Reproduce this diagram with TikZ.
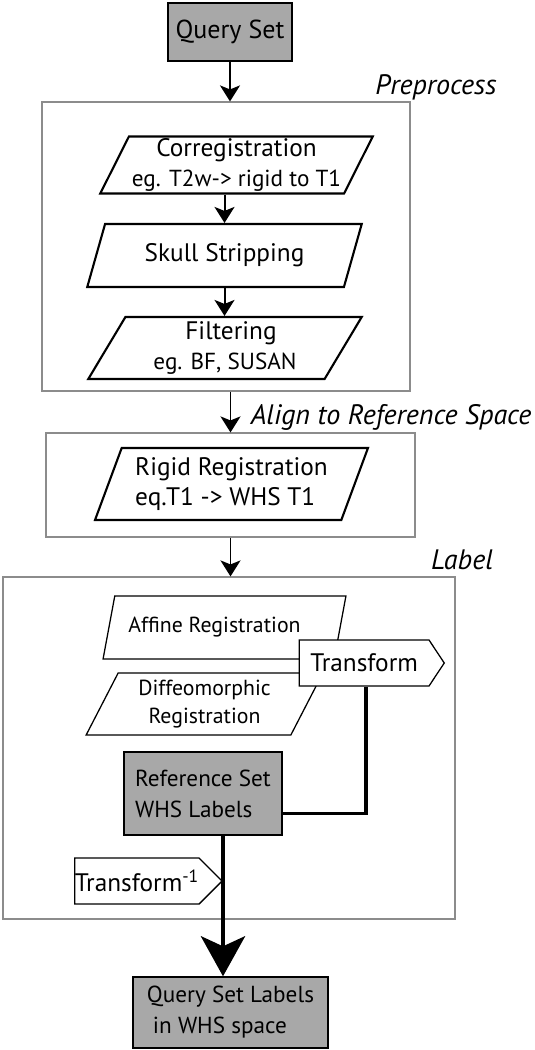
\documentclass[tikz,border=0pt]{standalone}
\usepackage{fontspec}
\setmainfont{PT Sans}
\usepackage{tikz}
\usetikzlibrary{shapes.geometric, shapes.symbols, arrows.meta, positioning, calc}
\definecolor{boxgray}{HTML}{A8A8A8}
\definecolor{framegray}{HTML}{8C8C8C}
\newcommand{\subline}[1]{{\fontsize{16.5}{21}\selectfont #1}}

\tikzset{
  procbox/.style={trapezium, trapezium left angle=63, trapezium right angle=117,
    trapezium stretches=true, draw, line width=1.5pt, fill=white, inner sep=0pt,
    align=center, font=\fontsize{18}{21}\selectfont},
  regbox/.style={procbox, line width=0.9pt, font=\fontsize{15.5}{20}\selectfont},
  databox/.style={draw, line width=1pt, fill=boxgray, inner sep=0pt, align=left,
    font=\fontsize{16.5}{22}\selectfont},
  groupbox/.style={draw=framegray, line width=0.8pt, inner sep=0pt},
  xformtag/.style={signal, signal to=east, draw, line width=0.9pt, fill=white,
    inner sep=0pt, font=\fontsize{18}{20}\selectfont},
  steplabel/.style={font=\fontsize{20}{22}\selectfont\itshape},
  flowarrow/.style={line width=1.4pt, -{Stealth[length=4mm, width=5mm, inset=1mm]}},
  linkline/.style={line width=2.2pt},
  bigarrow/.style={line width=3.5pt, -{Stealth[length=10mm, width=11mm, inset=2.5mm]}}
}

\begin{document}
\begin{tikzpicture}
  \useasboundingbox (0,0) rectangle (13.35,-26.25);

  % Input
  \node[databox, align=center, font=\fontsize{18.5}{22}\selectfont, minimum width=3.1cm, minimum height=1.45cm] (queryset) at (5.75,-0.8) {Query Set};

  % Preprocess stage
  \node[groupbox, minimum width=9.2cm, minimum height=7.225cm] (preproc) at (5.65,-6.1625) {};
  \node[steplabel] (preproclabel) at (10.9,-2.175) {Preprocess};
  \node[procbox, trapezium left angle=62, trapezium right angle=118, minimum width=6.825cm, minimum height=1.425cm] (coreg) at (5.9125,-4.125) {Corregistration\\\subline{eg. T2w-> rigid to T1}};
  \node[procbox, minimum width=6.875cm, minimum height=1.575cm] (skull) at (5.6125,-6.3875) {Skull Stripping};
  \node[procbox, minimum width=6.85cm, minimum height=1.55cm] (filtering) at (5.625,-8.7) {\hspace{0.3cm}Filtering\\\subline{eg. BF, SUSAN}};

  % Align stage
  \node[groupbox, minimum width=9.225cm, minimum height=2.6cm] (alignbox) at (5.7625,-12.125) {};
  \node[steplabel] (alignlabel) at (9.775,-10.425) {Align to Reference Space};
  \node[procbox, align=left, trapezium left angle=66, trapezium right angle=114, minimum width=6.825cm, minimum height=1.8cm] (rigid) at (5.7875,-12.1) {Rigid Registration\\eq.T1 -> WHS T1};

  % Label stage
  \node[groupbox, minimum width=11.3cm, minimum height=8.55cm] (labelbox) at (5.725,-18.7) {};
  \node[steplabel] (labellabel) at (11.55,-14.0) {Label};
  \node[regbox, minimum width=6.075cm, minimum height=1.575cm] (affine) at (5.6125,-15.6875) {Affine Registration\hspace{0.5cm}};
  \node[regbox, minimum width=5.925cm, minimum height=1.55cm] (diffeo) at (5.1125,-17.6) {Diffeomorphic\\Registration};
  \node[xformtag, anchor=east, signal pointer angle=113, minimum width=3.625cm, minimum height=1.15cm] (xform) at (11.125,-16.575) {Transform};
  \coordinate (xformdrop) at (9.15,-16.575);
  \node[databox, minimum width=3.95cm, minimum height=2.075cm] (refset) at (5.075,-19.8375) {Reference Set\\WHS Labels};
  \node[xformtag, anchor=east, signal pointer angle=90, minimum width=3.65cm, minimum height=1.15cm] (invxform) at (5.575,-22.025) {Transform\textsuperscript{-1}};

  % Output
  \node[databox, minimum width=4.875cm, minimum height=1.775cm] (querylabels) at (5.7625,-25.3125) {Query Set Labels\\\hspace{0.15cm}in WHS space};

  % Connectors
  \draw[flowarrow] (queryset) -- (queryset |- preproc.north);
  \draw[flowarrow] (skull.north |- coreg.south) -- (skull.north);
  \draw[flowarrow] (skull.south) -- (skull.south |- filtering.north);
  \draw[flowarrow] (preproc.south -| alignbox) -- (alignbox.north);
  \draw[flowarrow] (alignbox.south) -- (alignbox.south |- labelbox.north);
  \draw[linkline] (xformdrop |- xform.south) |- ([yshift=-0.5cm]refset.east);
  \draw[bigarrow] ([xshift=5mm]refset.south) -- ([xshift=5mm]refset.south |- querylabels.north);
\end{tikzpicture}
\end{document}
